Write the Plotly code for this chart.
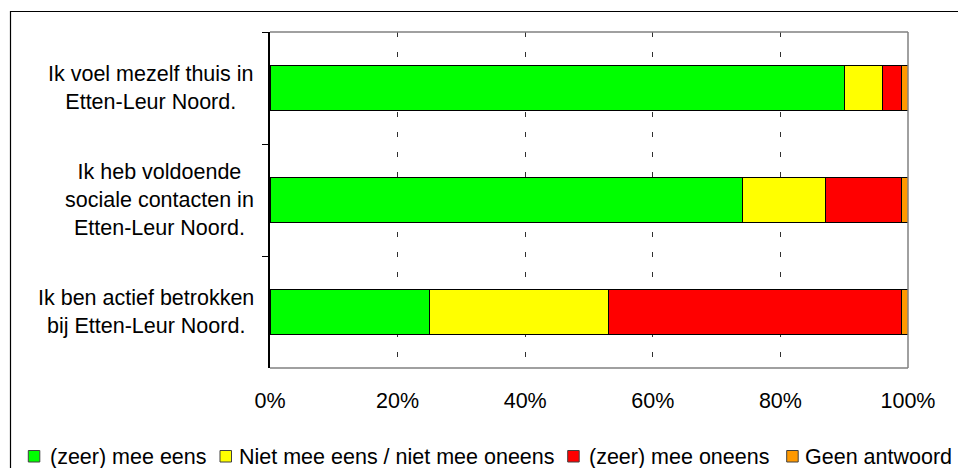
import plotly.graph_objects as go

# ---- data ----
categories = [
    "Ik voel mezelf thuis in<br>Etten-Leur Noord.",
    "Ik heb voldoende<br>sociale contacten in<br>Etten-Leur Noord.",
    "Ik ben actief betrokken<br>bij Etten-Leur Noord.",
]
series_names = ["(zeer) mee eens", "Niet mee eens / niet mee oneens",
                "(zeer) mee oneens", "Geen antwoord"]
zeer_eens = [90, 74, 25]
neutraal = [6, 13, 28]
zeer_oneens = [3, 12, 46]
geen_antwoord = [1, 1, 1]
x_tick_values = [0, 20, 40, 60, 80, 100]
x_tick_labels = ["0%", "20%", "40%", "60%", "80%", "100%"]

series_values = [zeer_eens, neutraal, zeer_oneens, geen_antwoord]
colors = ["#00FF00", "#FFFF00", "#FF0000", "#FF9900"]

W, H = 958, 468
L, R, T, B = 270, 50, 32, 100
PW, PH = W - L - R, H - T - B
FONT = "Liberation Sans, Arial, sans-serif"
FS = 21.5


def px_x(px):
    return (px - L) / PW


def px_y(py):
    return (H - B - py) / PH


fig = go.Figure()
for name, vals, col in zip(series_names, series_values, colors):
    fig.add_trace(go.Bar(
        y=categories, x=vals, name=name, orientation="h",
        marker=dict(color=col, line=dict(color="#000000", width=1)),
        showlegend=False, hoverinfo="skip",
    ))

shapes = []
annotations = []

# plot-area frame (grey, top, right and bottom)
shapes.append(dict(type="line", xref="paper", yref="paper", x0=0, x1=1, y0=1, y1=1,
                   line=dict(color="#808080", width=1.5), layer="above"))
shapes.append(dict(type="line", xref="paper", yref="paper", x0=1, x1=1, y0=0, y1=1,
                   line=dict(color="#808080", width=1.5), layer="above"))
shapes.append(dict(type="line", xref="paper", yref="paper", x0=0, x1=1, y0=0, y1=0,
                   line=dict(color="#808080", width=1.5), layer="above"))
# outer chart frame
shapes.append(dict(type="rect", xref="paper", yref="paper",
                   x0=px_x(10.5), x1=px_x(1000), y0=px_y(500), y1=px_y(11.5),
                   line=dict(color="#000000", width=1.2), layer="below"))

# category labels (centered multi-line)
for c in categories:
    annotations.append(dict(xref="paper", yref="y", x=px_x(256), y=c, text=c,
                            xanchor="right", yanchor="middle", align="center",
                            showarrow=False, font=dict(family=FONT, size=FS, color="#000000")))

# manual legend
leg_sq = [28.3, 220, 567.7, 786.7]
leg_tx = [48.3, 237, 586.7, 803.3]
for name, col, sx, tx in zip(series_names, colors, leg_sq, leg_tx):
    shapes.append(dict(type="rect", xref="paper", yref="paper",
                       x0=px_x(sx), x1=px_x(sx + 11.5), y0=px_y(462), y1=px_y(450.5),
                       fillcolor=col, line=dict(color="#404040", width=1)))
    annotations.append(dict(xref="paper", yref="paper", x=px_x(tx), y=px_y(456.5),
                            text=name, xanchor="left", yanchor="middle", showarrow=False,
                            font=dict(family=FONT, size=FS, color="#000000")))

fig.update_layout(
    width=W, height=H,
    margin=dict(l=L, r=R, t=T, b=B, pad=0),
    barmode="stack", bargap=0.6,
    plot_bgcolor="#FFFFFF", paper_bgcolor="#FFFFFF",
    font=dict(family=FONT, size=FS, color="#000000"),
    shapes=shapes, annotations=annotations,
    hovermode=False,
    xaxis=dict(range=[0, 100], tickmode="array", tickvals=x_tick_values, ticktext=x_tick_labels,
               showgrid=True, gridcolor="#303030", gridwidth=1, griddash="5px,15px",
               zeroline=False, showline=False, ticks="", ticklabelstandoff=17,
               tickfont=dict(family=FONT, size=FS, color="#000000")),
    yaxis=dict(autorange="reversed", showticklabels=False, showgrid=False,
               zeroline=False, showline=True, linecolor="#000000", linewidth=1.5,
               ticks="outside", tickson="boundaries", ticklen=6, tickcolor="#000000",
               tickwidth=1),
)

fig.write_html("out.html", config={"displayModeBar": False},
               post_script="document.body.style.margin='0';document.body.style.overflow='hidden';")
